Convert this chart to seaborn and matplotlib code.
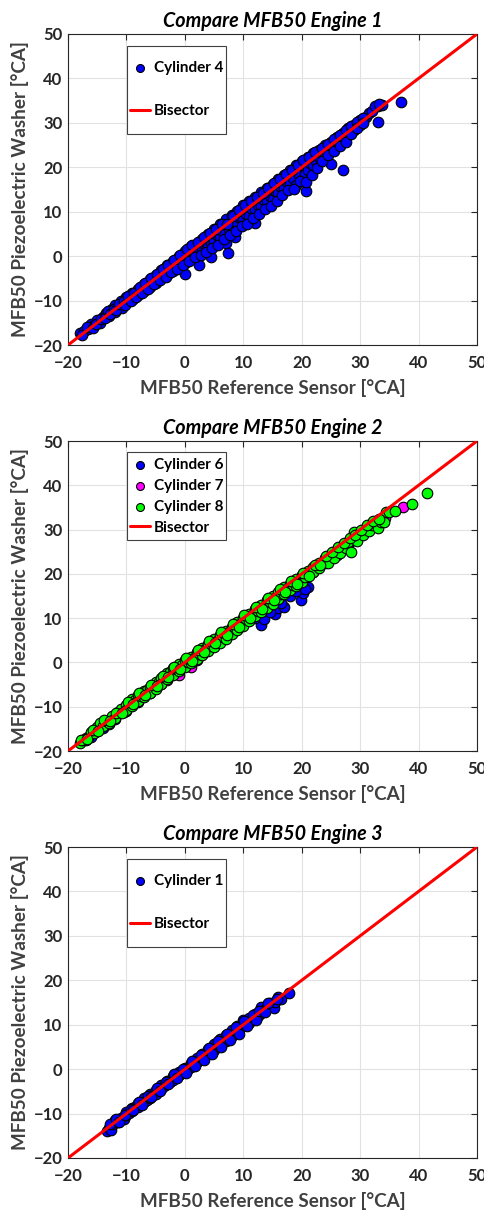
import matplotlib
matplotlib.use("Agg")
import matplotlib.pyplot as plt
from matplotlib.patches import Rectangle
import pandas as pd
import seaborn as sns

# ---- data (x = reference sensor, y = piezo washer) ----
engine_titles = ["Compare MFB50 Engine 1", "Compare MFB50 Engine 2", "Compare MFB50 Engine 3"]
axis_ticks = [-20, -10, 0, 10, 20, 30, 40, 50]
bisector_x = [-20, 50]
bisector_y = [-20, 50]

eng1_cyl4 = [
    (-18, -17.3), (-17.2, -16.8), (-16.5, -16.3), (-16, -15.2), (-15.5, -15.6), (-15, -14.4),
    (-14.6, -15), (-14, -13.6), (-13.5, -12.8), (-13, -13.4), (-12.5, -12), (-12, -11),
    (-12, -12.6), (-11.5, -11.2), (-11, -10.2), (-10.8, -11.6), (-10, -9.3), (-10, -10.6),
    (-9.5, -9.7), (-9, -8.2), (-8.8, -9.6), (-8, -7.4), (-8, -8.8), (-7.5, -7.8), (-7, -6.3),
    (-7, -7.9), (-6.5, -6.6), (-6, -5.2), (-6, -7), (-5.5, -5.5), (-5, -4.2), (-5, -6),
    (-4.5, -4.6), (-4, -3.1), (-4, -5), (-3.5, -3.7), (-3, -2), (-3, -4.2), (-2.5, -2.6),
    (-2, -1), (-2, -3.3), (-1.5, -1.8), (-1, 0), (-1, -2.4), (-0.5, -0.8), (0, 1.2), (0, -1.5),
    (0, -4), (0.5, 0.3), (1, 2.2), (1, -0.6), (1.5, 0.5), (2, 2.8), (2, 0), (2.5, -2),
    (2.5, 1.2), (3, 3.8), (3, 1.4), (3.5, 2.5), (4, 5), (4, 2), (4.5, -0.1), (4.5, 3.2),
    (5, 6), (5, 3.5), (5.5, 4.8), (6, 7.2), (6, 4.2), (6.5, 5.5), (7, 8.3), (7, 3), (7.3, 0.6),
    (7.5, 6), (8, 9.3), (8, 6.4), (8.5, 4.3), (8.5, 7.6), (9, 10.2), (9, 7.5), (9.5, 8.6),
    (10, 11.4), (10, 8.2), (10.5, 9.5), (11, 12.3), (11, 9), (11.5, 10.6), (12, 13.4),
    (12, 7.5), (12, 10.5), (12.5, 11.6), (13, 14.4), (13, 11.2), (13.5, 12.6), (14, 15.3),
    (14, 12.3), (14.5, 13.6), (15, 16.3), (15, 12.8), (15.5, 14.7), (16, 17.3), (16, 14.2),
    (16.5, 15.6), (17, 18.3), (17, 15.3), (17.5, 16.6), (18, 19.3), (18, 16.5), (18.5, 17.6),
    (19, 20.5), (19, 16), (19.5, 18.2), (20, 21.4), (20, 17.2), (20.5, 18.4), (20.7, 14.7),
    (21, 22.3), (21, 19.4), (21.5, 21), (22, 23.2), (22, 20.5), (22.5, 21.5), (23, 24),
    (23, 22.3), (24, 25), (24, 23.2), (25, 25.8), (25, 20.7), (25, 24.2), (26, 26.8),
    (26, 25.3), (27, 27.8), (27, 19.5), (27, 26.4), (28, 28.8), (28, 27.2), (29, 29.6),
    (29, 28.5), (30, 30.6), (30, 29.6), (31, 31.4), (31.5, 32.2), (32, 32.6), (33, 33.7),
    (33, 30.3), (33.8, 34.1), (37, 34.8),
    (-17.6, -17.8), (-16.8, -16), (-15.8, -16.2), (-15.2, -15.3), (-14.3, -14.2), (-13.7, -14),
    (-13.2, -12.4), (-12.8, -13), (-12.2, -11.8), (-11.8, -12.2), (-11.2, -10.8), (-10.5, -10),
    (-10.3, -11), (-9.7, -9), (-9.3, -10), (-8.7, -8.3), (-8.3, -9.2), (-7.7, -7), (-7.3, -8.4),
    (-6.8, -6), (-6.3, -7.3), (-5.8, -5), (-5.3, -6.3), (-4.8, -4), (-4.3, -5.3), (-3.8, -3),
    (-3.3, -4.6), (-2.8, -1.9), (-2.3, -3.6), (-1.8, -0.8), (-1.3, -2.8), (-0.8, 0.2),
    (-0.3, -2), (0.3, 1.6), (0.7, -1), (1.3, 2.4), (1.7, -0.3), (2.3, 3.2), (2.7, 0.2),
    (3.3, 4.2), (3.7, 0.9), (4.3, 5.2), (4.7, 1.8), (5.3, 6.2), (5.7, 2.6), (6.3, 7.3),
    (6.7, 3.8), (7.2, 7.2), (7.7, 4.8), (8.3, 9), (8.7, 5.7), (9.3, 10.3), (9.7, 6.8),
    (10.3, 11.4), (10.7, 7.3), (11.3, 12.3), (11.7, 8.5), (12.3, 13.3), (12.7, 9.5),
    (13.3, 14.3), (13.7, 10.5), (14.3, 15.4), (14.7, 11.2), (15.3, 16.4), (15.7, 12.5),
    (16.3, 17.4), (16.7, 13.8), (17.3, 18.4), (17.7, 14.8), (18.3, 19.4), (18.7, 15.2),
    (19.3, 20.6), (19.7, 17), (20.3, 21.6), (20.8, 16.8), (21.3, 22.4), (21.7, 18.3),
    (22.3, 23.4), (22.7, 19.8), (23.5, 24.4), (23.5, 21.5), (24.5, 25.3), (24.5, 22.8),
    (25.5, 26.3), (25.5, 23.6), (26.5, 27.3), (26.5, 24.8), (27.5, 28.3), (27.5, 25.8),
    (28.5, 29.2), (28.5, 27.6), (29.5, 30.2), (29.5, 28.8), (30.5, 31), (30.5, 30),
    (32.5, 33.8), (33.3, 34.2),
]

eng2_cyl6 = [
    (-17, -17.5), (-12, -12.8), (-8, -8.9), (-4, -4.8), (-2, -2.5), (0, -0.9), (3, 2),
    (5, 4.5), (6, 4.8), (8, 7), (9, 7.6), (11, 9.5), (12.5, 10.8), (13, 8.5), (14, 12.3),
    (15.5, 11), (16, 12.4), (17, 12.5), (17.5, 15.6), (18.5, 16.5), (19.8, 14), (20.3, 15.6),
    (21, 17), (22, 20.4), (24, 22.5), (26, 24.3), (28, 26.5), (30, 28.8),
    (-16, -16.9), (-14, -14.9), (-10, -10.9), (-6, -6.9), (2, 0.8), (4, 2.8), (7, 5.6),
    (10, 8.4), (12, 10), (13.5, 9.8), (14.5, 11.5), (16.5, 13.5), (18, 15), (19, 16.2),
    (20.5, 16.5),
]

eng2_cyl7 = [
    (-15, -15.4), (-10, -10.7), (-5, -5.6), (-1, -2.8), (1, -1), (4, 2.8), (7, 5.5),
    (10, 8.6), (13, 11.8), (16, 14.5), (19, 17.8), (22, 20.8), (25, 23.8), (28, 27),
    (31, 29.8), (34.3, 32.7), (37.3, 35),
    (-13, -13.8), (-8, -8.8), (-3, -4), (2, 0.6), (5, 3.6), (8, 6.8), (11, 9.6), (14, 12.6),
    (17, 15.6), (20, 18.6), (23, 21.8), (26, 24.8), (29, 27.8), (32, 31),
]

eng2_cyl8 = [
    (-18, -18.3), (-17.5, -17.6), (-17, -17), (-16.5, -16.8), (-16, -15.7), (-15.5, -16),
    (-15, -14.6), (-14.5, -13.6), (-14, -14.4), (-13.5, -13.3), (-13, -13.7), (-12.5, -12),
    (-12, -12.6), (-11.5, -11.3), (-11, -10.6), (-10.5, -11.2), (-10, -9.5), (-10, -10.8),
    (-9.5, -9.2), (-9, -8.3), (-9, -9.8), (-8.5, -8.5), (-8, -7.4), (-8, -8.8), (-7.5, -7.6),
    (-7, -6.5), (-7, -7.8), (-6.5, -6.3), (-6, -5.5), (-6, -6.9), (-5.5, -5.2), (-5, -4.4),
    (-5, -5.9), (-4.5, -4.4), (-4, -3.5), (-4, -4.9), (-3.5, -3.2), (-3, -2.4), (-3, -3.8),
    (-2.5, -2.2), (-2, -1.3), (-2, -2.9), (-1.5, -1.4), (-1, -0.4), (-1, -2), (-0.5, -0.6),
    (0, 0.5), (0, -1.1), (0.5, 0.2), (1, 1.3), (1, -0.2), (1.5, 1), (2, 2.3), (2, 0.8),
    (2.5, 2), (3, 3.3), (3, 1.6), (3.5, 3), (4, 4.2), (4, 2.6), (4.5, 4), (5, 5.2), (5, 3.5),
    (5.5, 4.8), (6, 6.2), (6, 4.5), (6.5, 5.8), (7, 7.2), (7, 5.3), (7.5, 6.8), (8, 8.1),
    (8, 6.4), (8.5, 7.8), (9, 9.1), (9, 7.3), (9.5, 8.7), (10, 10), (10, 8.3), (10.5, 9.8),
    (11, 11), (11, 9.4), (11.5, 10.6), (12, 12), (12, 10.4), (12.5, 11.6), (13, 13),
    (13, 11.3), (13.5, 12.6), (14, 14), (14, 12.3), (14.5, 13.7), (15, 15), (15, 13.2),
    (15.5, 14.6), (16, 16), (16, 14.3), (16.5, 15.5), (17, 17), (17, 15.4), (17.5, 16.5),
    (18, 17.8), (18, 16.3), (18.5, 17.4), (19, 18.8), (19, 17.2), (19.5, 18.3), (20, 19.7),
    (20, 18.2), (20.5, 19.2), (21, 20.6), (21.5, 20), (22, 21.6), (22, 20.4), (23, 22.5),
    (23, 21.3), (24, 23.5), (24.5, 22.5), (25, 24.4), (25.5, 23.6), (26, 25.5), (26.5, 24.6),
    (27, 26.4), (27.5, 25.8), (28, 27.3), (28.5, 25), (29, 28.3), (29, 29.4), (29.5, 27.5),
    (30, 29.3), (30.5, 28.8), (31, 30.3), (31.5, 29.6), (32, 31), (32.5, 31.5), (33, 30.3),
    (33.5, 31.8), (34, 31.8), (34.5, 34), (35, 34), (36, 34.3), (38.8, 35.8), (41.5, 38.3),
    (-17.8, -17.5), (-16.8, -17.2), (-15.8, -15.2), (-14.8, -15.4), (-13.8, -13), (-12.8, -13.3),
    (-11.8, -11.5), (-10.8, -11.5), (-9.8, -9), (-8.8, -9.3), (-7.8, -7), (-6.8, -7.3),
    (-5.8, -5), (-4.8, -5.3), (-3.8, -3), (-2.8, -3.3), (-1.8, -1), (-0.8, -1.5), (0.2, 1),
    (1.2, 0.3), (2.2, 2.8), (3.2, 2.3), (4.2, 4.8), (5.2, 4.3), (6.2, 6.8), (7.2, 6.1),
    (8.2, 8.6), (9.2, 8), (10.2, 10.6), (11.2, 10), (12.2, 12.5), (13.2, 12), (14.2, 14.5),
    (15.2, 14), (16.2, 16.5), (17.2, 16), (18.2, 18.4), (19.2, 17.8), (20.2, 20.3),
    (21.2, 19.6), (22.2, 22), (23.2, 22), (24.2, 24), (25.2, 25), (26.2, 26), (27.2, 27),
    (28.2, 28), (29.2, 28.7), (30.2, 30), (31.2, 31), (32.2, 32), (33.2, 32.5),
]

eng3_cyl1 = [
    (-13.3, -14), (-13, -13.2), (-12.6, -13.6), (-12.3, -12.4), (-12, -11.4), (-11.5, -12),
    (-11, -11), (-10.5, -11.3), (-10, -9.6), (-10, -10.4), (-9.5, -9.8), (-9, -8.7),
    (-9, -9.5), (-8.5, -8.6), (-8, -7.7), (-8, -8.6), (-7.5, -7.8), (-7, -6.6), (-7, -7.4),
    (-6.5, -6.9), (-6, -5.6), (-6, -6.4), (-5.5, -5.8), (-5, -4.6), (-5, -5.5), (-4.5, -4.7),
    (-4, -3.6), (-4, -4.4), (-3.5, -3.8), (-3, -2.6), (-3, -3.4), (-2.5, -2.8), (-2, -1.6),
    (-2, -2.4), (-1.5, -1.8), (-1, -0.6), (-1, -1.4), (-0.5, -0.8), (0, 0.3), (0, -0.5),
    (0.5, 0), (1, 1.3), (1, 0.5), (1.5, 1.2), (2, 2.4), (2, 1.5), (2.5, 2), (3, 3.4),
    (3, 2.4), (3.5, 3), (4, 4.5), (4, 3.4), (4.5, 4), (5, 5.6), (5, 4.4), (5.5, 5),
    (6, 6.8), (6, 5.4), (6.5, 6.2), (7, 7.6), (7, 6.4), (7.5, 7.2), (8, 8.8), (8, 7.5),
    (8.5, 8.2), (9, 9.8), (9, 8.6), (9.5, 9.2), (10, 11), (10, 9.6), (10.5, 10.3), (11, 11.5),
    (11, 10.4), (11.5, 11.2), (12, 12.3), (12.5, 12), (13, 14), (13, 12.6), (13.5, 13.3),
    (14, 13.8), (14.5, 15), (15, 14.5), (15.3, 13.8), (15.5, 15.2), (16, 16.3), (16.5, 15.8),
    (17.8, 17.2),
    (-12.8, -12.3), (-11.8, -11.2), (-11.3, -11.8), (-10.3, -10.3), (-9.3, -9), (-8.8, -9.3),
    (-7.8, -7.3), (-7.3, -8), (-6.3, -6), (-5.8, -6.2), (-4.8, -4.3), (-4.3, -5), (-3.3, -3),
    (-2.8, -3.3), (-1.8, -1.2), (-1.3, -2), (-0.3, 0), (0.2, -0.8), (1.2, 1.8), (1.7, 0.8),
    (2.7, 3.2), (3.2, 2), (4.2, 4.8), (4.7, 3.5), (5.7, 6.4), (6.2, 5), (7.2, 8), (7.7, 6.6),
    (8.7, 9.4), (9.2, 7.8), (10.2, 10.8), (10.7, 9.8), (11.7, 12.2), (12.2, 11), (12.7, 13),
    (13.7, 12.8), (14.2, 15), (15.7, 15.7),
]

panels = [
    [("Cylinder 4", eng1_cyl4, "#0000ff")],
    [("Cylinder 6", eng2_cyl6, "#0000ff"),
     ("Cylinder 7", eng2_cyl7, "#ff00ff"),
     ("Cylinder 8", eng2_cyl8, "#00ff00")],
    [("Cylinder 1", eng3_cyl1, "#0000ff")],
]

sns.set_theme(style="whitegrid")
plt.rcParams["font.family"] = ["Lato", "DejaVu Sans"]
plt.rcParams["font.weight"] = "bold"

W, H = 485, 1211
fig = plt.figure(figsize=(W / 100, H / 100), dpi=100)

# axes boxes in pixels: (left, top, right, bottom)
boxes = [(68, 34, 477, 345), (68, 441, 477, 751), (68, 847, 477, 1158)]
TEXT_GREY = "#262626"
LEG_FS = 11
# legend box in axes fractions (left, bottom, width, height)
LEG_BOX = (0.144, 0.68, 0.242, 0.283)

for (left, top, right, bottom), title, series in zip(boxes, engine_titles, panels):
    ax = fig.add_axes([left / W, 1 - bottom / H, (right - left) / W, (bottom - top) / H])

    for name, pts, color in series:
        df = pd.DataFrame(pts, columns=["ref", "piezo"])
        sns.scatterplot(data=df, x="ref", y="piezo", ax=ax, color=color, s=58,
                        edgecolor="black", linewidth=0.8, label=name, zorder=3)

    sns.lineplot(x=bisector_x, y=bisector_y, ax=ax, color="red", linewidth=2.2,
                 label="Bisector", zorder=4)

    ax.set_xlim(-20, 50)
    ax.set_ylim(-20, 50)
    ax.set_xticks(axis_ticks)
    ax.set_yticks(axis_ticks)
    ax.set_facecolor("white")
    ax.grid(True, color="#e2e2e2", linewidth=0.8)
    for sp in ax.spines.values():
        sp.set_color("#262626")
        sp.set_linewidth(0.8)
    ax.tick_params(direction="in", length=4, width=0.8, top=True, right=True,
                   labelsize=12, colors=TEXT_GREY)
    ax.tick_params(axis="x", pad=7)
    ax.tick_params(axis="y", pad=4)
    for lab in ax.get_xticklabels() + ax.get_yticklabels():
        lab.set_fontweight("bold")

    ax.set_xlabel("MFB50 Reference Sensor [°CA]", fontsize=13.6, fontweight="bold",
                  color="#404040", labelpad=6)
    ax.set_ylabel("MFB50 Piezoelectric Washer [°CA]", fontsize=13.6, fontweight="bold",
                  color="#404040", labelpad=3)
    ax.set_title(title, fontsize=14.2, fontweight="bold", style="italic", color="black", pad=5)

    # MATLAB-style legend box: fixed frame, entries spread evenly inside
    ax.add_patch(Rectangle(LEG_BOX[:2], LEG_BOX[2], LEG_BOX[3], transform=ax.transAxes,
                           facecolor="white", edgecolor="#404040", linewidth=0.8, zorder=5))
    spacing = 0.45 if len(series) > 1 else 1.93
    leg = ax.legend(loc="center left",
                    bbox_to_anchor=(LEG_BOX[0], LEG_BOX[1] + LEG_BOX[3] / 2),
                    frameon=False, fontsize=LEG_FS, labelspacing=spacing, borderpad=0.2,
                    handlelength=1.3, handletextpad=0.25, borderaxespad=0, markerscale=0.75)
    leg.set_zorder(6)
    for txt in leg.get_texts():
        txt.set_fontweight("bold")
        txt.set_color("black")

fig.savefig("out.png", dpi=100)
